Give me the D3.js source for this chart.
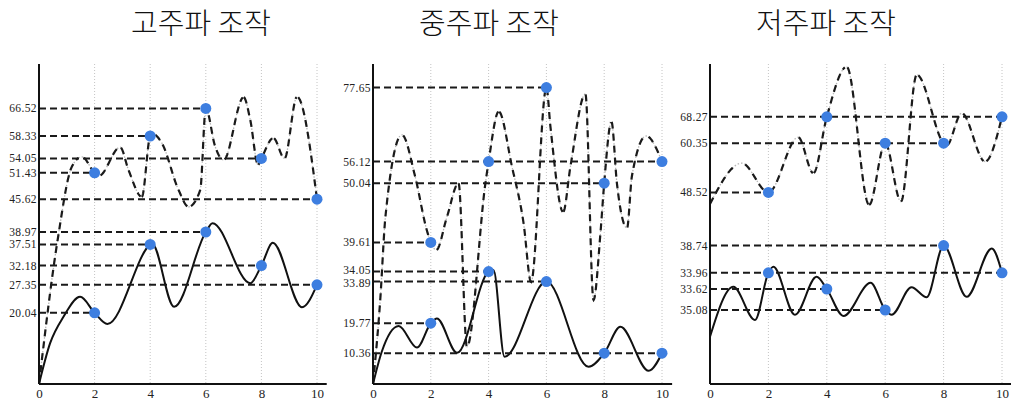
<!DOCTYPE html>
<html>
<head>
<meta charset="utf-8">
<script src="https://cdn.jsdelivr.net/npm/d3@7"></script>
<style>
  body { margin: 0; background: #fff; }
  svg { display: block; }
  .title { font-family: "Noto Sans CJK KR", sans-serif; font-weight: 300; font-size: 29px; fill: #111; }
  .vlabel { font-family: "Liberation Serif", "DejaVu Serif", serif; font-size: 11.5px; fill: #222; letter-spacing: 0.4px; }
  .tick text { font-family: "Liberation Serif", "DejaVu Serif", serif; font-size: 13px; fill: #222; }
</style>
</head>
<body>
<svg id="chart" width="1011" height="405"></svg>
<script>
// ---- data ----
var titles = ["고주파 조작", "중주파 조작", "저주파 조작"];
var xTicks = [0, 2, 4, 6, 8, 10];
var markX = [2, 4, 6, 8, 10];

// high frequency panel
var highDashLabel = [51.43, 58.33, 66.52, 54.05, 45.62];
var highDashPos = [52.8, 62.0, 68.9, 56.4, 46.2];
var highSolidLabel = [20.04, 37.51, 38.97, 32.18, 27.35];
var highSolidPos = [17.8, 34.9, 38.0, 29.6, 24.8];
var highDashCurve = [[0, 0], [0.67, 36], [1.18, 54.3], [1.54, 56.8], [2, 52.8], [2.15, 52], [2.92, 59.2], [3.22, 53.5], [3.7, 46.8], [4, 62], [4.1, 62.5], [4.42, 60.2], [5.02, 48.5], [5.38, 44.3], [5.8, 48.5], [6, 68.9], [6.34, 59.3], [6.64, 56], [7.36, 71.7], [7.6, 66], [7.88, 54.8], [8, 56.4], [8.43, 61.5], [8.83, 56.4], [9.28, 71.8], [10, 46.2]];
var highSolidCurve = [[0, 0], [0.4, 10.2], [0.88, 16.8], [1.48, 21.8], [2, 17.8], [2.46, 15], [4, 34.9], [4.06, 35.2], [4.86, 19.3], [6, 38], [6.24, 40.2], [7.6, 25.2], [8, 29.6], [8.41, 35.3], [9.46, 19.2], [10, 24.8]];

// mid frequency panel
var midDashLabel = [39.61, 56.12, 77.65, 50.04, 56.12];
var midDashPos = [35.4, 55.6, 74.1, 50.2, 55.6];
var midSolidLabel = [19.77, 34.05, 33.89, 10.36, 10.36];
var midSolidPos = [15.2, 28.1, 25.6, 7.7, 7.7];
var midDashCurve = [[0, 0], [0.25, 21], [0.43, 41.8], [1.0, 62.3], [1.46, 51.8], [1.86, 38.5], [2, 35.4], [2.19, 33.5], [2.56, 41.8], [2.96, 50.2], [3.25, 9.3], [3.89, 50.2], [4, 55.6], [4.35, 68.1], [4.81, 54.3], [5.21, 40.2], [5.47, 25.5], [6, 74.1], [6.14, 64.3], [6.58, 43], [6.83, 54.3], [7.35, 72.5], [7.63, 21], [7.87, 37.7], [8, 50.2], [8.25, 65.6], [8.44, 50.2], [8.79, 39], [8.96, 52], [9.45, 62], [10, 55.6]];
var midSolidCurve = [[0, 0], [0.3, 8], [0.89, 14.5], [1.52, 9.1], [2, 15.2], [2.21, 16.4], [2.91, 7.8], [4, 28.1], [4.17, 28.5], [4.55, 6.8], [6, 25.6], [7.46, 4.3], [8, 7.7], [8.56, 14.3], [9.54, 3.3], [10, 7.7]];

// low frequency panel
var lowDashLabel = [48.52, 68.27, 60.35, 60.35, 68.27];
var lowDashPos = [47.9, 66.8, 60.2, 60.2, 66.8];
var lowSolidLabel = [33.96, 33.62, 35.08, 38.74, 33.96];
var lowSolidPos = [27.8, 23.75, 18.5, 34.6, 27.8];
var lowDashCurve = [[0, 45], [1.09, 55.2], [2, 47.9], [3.02, 61.7], [3.54, 52.7], [4, 66.8], [4.68, 79.3], [5.45, 44.8], [6, 60.2], [6.54, 45.6], [7.08, 77.3], [8, 60.2], [8.1, 59.6], [8.62, 67.7], [9.42, 55.6], [10, 66.8]];
var lowSolidCurve = [[0, 11.8], [0.8, 24.3], [1.54, 16], [2, 27.8], [2.17, 29.3], [2.91, 17.3], [3.65, 26.8], [4, 23.75], [4.57, 17], [5.5, 25.3], [6, 18.5], [6.22, 17.3], [6.9, 24.2], [7.42, 21.7], [8, 34.6], [8.79, 21.8], [9.65, 33.9], [10, 27.8]];

// ---- layout ----
var panels = [
  { x0: 39, x1: 317, titleX: 201, dashLabel: highDashLabel, dashPos: highDashPos, solidLabel: highSolidLabel, solidPos: highSolidPos, dashCurve: highDashCurve, solidCurve: highSolidCurve },
  { x0: 373, x1: 662, titleX: 489, dashLabel: midDashLabel, dashPos: midDashPos, solidLabel: midSolidLabel, solidPos: midSolidPos, dashCurve: midDashCurve, solidCurve: midSolidCurve },
  { x0: 710, x1: 1002, titleX: 826, dashLabel: lowDashLabel, dashPos: lowDashPos, solidLabel: lowSolidLabel, solidPos: lowSolidPos, dashCurve: lowDashCurve, solidCurve: lowSolidCurve }
];

var svg = d3.select("#chart");
var y = d3.scaleLinear().domain([0, 80]).range([384, 64]);
var fmt = d3.format(".2f");
var blue = "#3d7ee0";

// dashed curve: faint dots everywhere, black dashes on the steep parts
function drawDashedCurve (g, data, line) {
  var path = g.append("path")
    .datum(data)
    .attr("d", line)
    .attr("fill", "none")
    .attr("stroke", "#b8b8b8")
    .attr("stroke-width", 1.3)
    .attr("stroke-dasharray", "1.5,2");
  var node = path.node();
  var L = node.getTotalLength();
  var pts = d3.range(0, L, 1).map(function (l) { return node.getPointAtLength(l); });
  pts.push(node.getPointAtLength(L));
  var runs = [], cur = [];
  for (var i = 1; i < pts.length; i++) {
    var dx = pts[i].x - pts[i - 1].x, dy = pts[i].y - pts[i - 1].y;
    if (Math.abs(dy) > Math.abs(dx) * 0.7) {
      if (!cur.length) cur.push(pts[i - 1]);
      cur.push(pts[i]);
    } else if (cur.length) {
      runs.push(cur); cur = [];
    }
  }
  if (cur.length) runs.push(cur);
  g.selectAll(null)
    .data(runs.filter(function (r) { return r.length > 3; }))
    .join("path")
    .attr("d", d3.line().x(function (p) { return p.x; }).y(function (p) { return p.y; }))
    .attr("fill", "none")
    .attr("stroke", "#1a1a1a")
    .attr("stroke-width", 2.2)
    .attr("stroke-dasharray", "7,5");
}

panels.forEach(function (p, k) {
  var x = d3.scaleLinear().domain([0, 10]).range([p.x0, p.x1]);
  var g = svg.append("g");

  g.append("text")
    .attr("class", "title")
    .attr("x", p.titleX)
    .attr("y", 34)
    .attr("text-anchor", "middle")
    .text(titles[k]);

  // dotted vertical grid
  g.selectAll(".grid")
    .data(markX)
    .join("line")
    .attr("x1", function (d) { return x(d); })
    .attr("x2", function (d) { return x(d); })
    .attr("y1", y(80))
    .attr("y2", y(0))
    .attr("stroke", "#c4c4c4")
    .attr("stroke-width", 1)
    .attr("stroke-dasharray", "1,2");

  // points of both series
  var pts = [];
  markX.forEach(function (xv, i) {
    pts.push({ x: xv, label: p.dashLabel[i], pos: p.dashPos[i] });
    pts.push({ x: xv, label: p.solidLabel[i], pos: p.solidPos[i] });
  });

  // horizontal guides: one per label, out to the furthest point carrying it
  var guides = Array.from(d3.rollup(pts,
    function (v) { return { label: v[0].label, pos: v[0].pos, x: d3.max(v, function (d) { return d.x; }) }; },
    function (d) { return fmt(d.label); }).values());

  // label positions, pushed apart a little where two sit too close
  guides.sort(function (a, b) { return b.pos - a.pos; });
  guides.forEach(function (d) { d.ty = y(d.pos); });
  for (var i = 1; i < guides.length; i++) {
    var gap = guides[i].ty - guides[i - 1].ty;
    if (gap < 12.5) {
      var s = (12.5 - gap) / 2;
      guides[i - 1].ty -= s;
      guides[i].ty += s;
    }
  }

  var lineGen = d3.line()
    .x(function (d) { return x(d[0]); })
    .y(function (d) { return y(d[1]); })
    .curve(d3.curveMonotoneX);

  drawDashedCurve(g, p.dashCurve, lineGen);

  g.append("path")
    .datum(p.solidCurve)
    .attr("d", lineGen)
    .attr("fill", "none")
    .attr("stroke", "#111")
    .attr("stroke-width", 2);

  g.selectAll(".guide")
    .data(guides)
    .join("line")
    .attr("x1", x(0))
    .attr("x2", function (d) { return x(d.x); })
    .attr("y1", function (d) { return y(d.pos); })
    .attr("y2", function (d) { return y(d.pos); })
    .attr("stroke", "#1a1a1a")
    .attr("stroke-width", 2)
    .attr("stroke-dasharray", "7,4");

  g.selectAll(".vlabel")
    .data(guides)
    .join("text")
    .attr("class", "vlabel")
    .attr("x", x(0) - 2)
    .attr("y", function (d) { return d.ty; })
    .attr("dy", "0.35em")
    .attr("text-anchor", "end")
    .text(function (d) { return fmt(d.label); });

  g.selectAll(".dot")
    .data(pts)
    .join("circle")
    .attr("cx", function (d) { return x(d.x); })
    .attr("cy", function (d) { return y(d.pos); })
    .attr("r", 5.5)
    .attr("fill", blue);

  // axes
  g.append("line")
    .attr("x1", x(0)).attr("x2", x(0))
    .attr("y1", y(80)).attr("y2", y(0))
    .attr("stroke", "#111").attr("stroke-width", 2);
  g.append("line")
    .attr("x1", x(0)).attr("x2", x(10.35))
    .attr("y1", y(0)).attr("y2", y(0))
    .attr("stroke", "#111").attr("stroke-width", 2);

  var ax = g.append("g")
    .attr("transform", "translate(0," + y(0) + ")")
    .call(d3.axisBottom(x).tickValues(xTicks).tickSize(0).tickPadding(5));
  ax.select(".domain").remove();
});
</script>
</body>
</html>
